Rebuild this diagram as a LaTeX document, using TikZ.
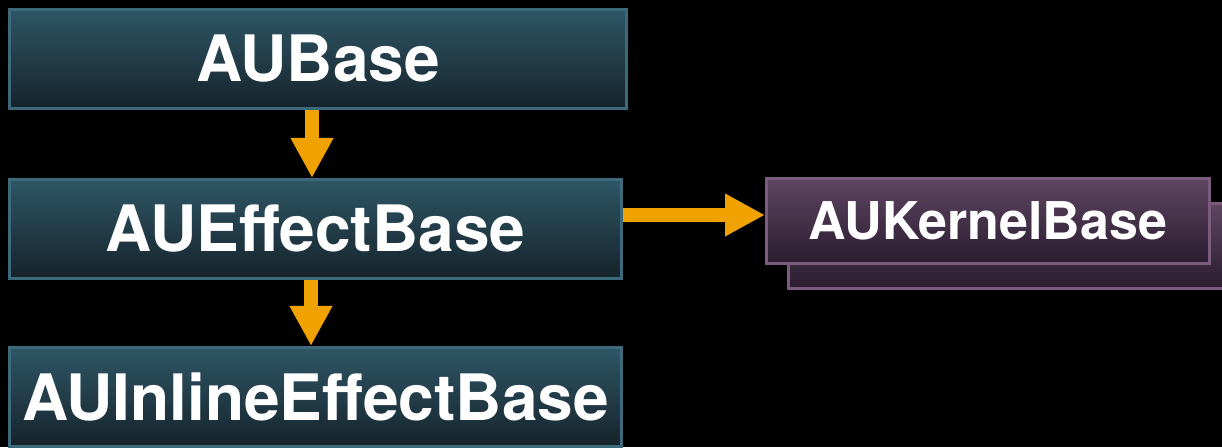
\documentclass[tikz,border=0pt]{standalone}
\usepackage{fontspec}
\setmainfont{TeX Gyre Heros}
\usepackage{tikz}
\usetikzlibrary{arrows.meta}

\definecolor{tealtop}{HTML}{2F5666}
\definecolor{tealbot}{HTML}{15232B}
\definecolor{tealline}{HTML}{3D6A7B}
\definecolor{plumtop}{HTML}{5E4662}
\definecolor{plumbot}{HTML}{2A1C2E}
\definecolor{plumline}{HTML}{7C5C7E}
\definecolor{arrorange}{HTML}{F0A200}

\begin{document}
\begin{tikzpicture}[x=1pt,y=1pt,
  classbox/.style={draw=tealline, line width=3pt, top color=tealtop, bottom color=tealbot,
    text=white, font=\bfseries\fontsize{64}{70}\selectfont, minimum height=99pt, inner sep=0pt},
  kernbox/.style={draw=plumline, line width=3pt, top color=plumtop, bottom color=plumbot,
    text=white, font=\bfseries\fontsize{52}{56}\selectfont, minimum width=443pt, minimum height=85pt, inner sep=0pt},
  inherit/.style={draw=arrorange, line width=14pt, -{Triangle[width=40pt,length=40pt]}}]
\useasboundingbox (0,0) rectangle (1222,447);
\fill [black] (0,0) rectangle (1222,447);

\node [classbox, minimum width=617pt] (base) at (318,388) {AUBase};
\node [classbox, minimum width=612pt] (effect) at (315.5,218) {AUEffectBase};
\node [classbox, minimum width=612pt] (inline) at (315.5,50) {AUInlineEffectBase};

\node [kernbox] (kernelback) at (1010,201) {};
\node [kernbox] (kernel) at (988,226) {AUKernelBase};

\draw [inherit] ([xshift=-6pt]base.south) -- ([xshift=-6pt]base.south |- effect.north);
\draw [inherit] ([xshift=-4.5pt]effect.south) -- ([xshift=-4.5pt]effect.south |- inline.north);
\coordinate (kin) at ([yshift=6pt]kernel.west);
\draw [inherit] (effect.east |- kin) -- (kin);

\end{tikzpicture}
\end{document}
